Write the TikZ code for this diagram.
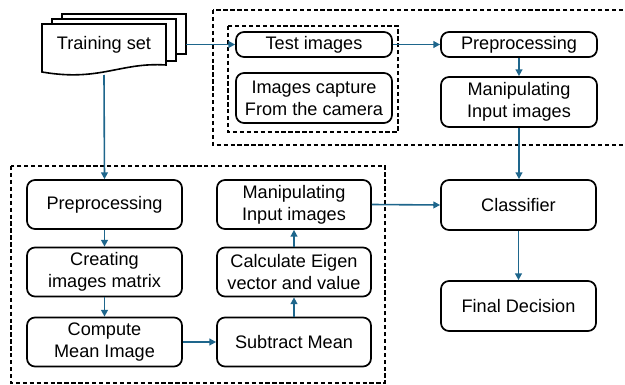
\documentclass[tikz,border=0pt]{standalone}
\usepackage{fontspec}
\setmainfont{Liberation Sans}
\usetikzlibrary{arrows.meta}
\definecolor{arr}{RGB}{30,102,140}
\tikzset{
  txt/.style={font=\fontsize{13.6}{16.5}\selectfont},
  bx/.style={txt, draw=black, line width=1.3pt, rounded corners=6pt, fill=white, inner sep=0pt, align=center},
  cn/.style={draw=arr, line width=1.2pt, -{Triangle[length=5pt,width=5pt]}},
  grp/.style={draw=black, line width=1.1pt, dash pattern=on 3.2pt off 2pt},
  doc/.style={draw=black, line width=1.2pt, fill=white},
  wA/.style={minimum width=116.25pt, minimum height=36.75pt},
  wB/.style={minimum width=115.5pt, minimum height=36.75pt},
  wT/.style={minimum width=117pt, minimum height=18.75pt},
  wM/.style={minimum width=117pt, minimum height=37.5pt},
}
\begin{document}
\begin{tikzpicture}[x=0.75pt, y=-0.75pt]
\useasboundingbox (0,0) rectangle (625,385);
\clip (0,0) rectangle (625,385);
% group boxes
\draw[grp] (213,10) rectangle (640,145);
\draw[grp] (228,26) rectangle (398,132);
\draw[grp] (11,166) rectangle (385,383);
% training set document stack
\draw[doc] (62,14) rectangle (186,54);
\draw[doc] (52,19) rectangle (176,61);
\draw[doc] (42,24) -- (166,24) -- (166,65) .. controls (120,62) and (100,82) .. (42,72) -- cycle;
\node[txt] (ts) at (104,45) {Training set};
\coordinate (tsr) at (186,44.5);
\coordinate (tsb) at (104,75);
% top nodes
\node[bx, wT] (test) at (314,44.5) {Test images};
\node[bx, wM] (cap) at (314,98) {Images capture\\From the camera};
\node[bx, wT] (pre2) at (519,44.5) {Preprocessing};
\node[bx, wM] (man2) at (519,102) {Manipulating\\Input images};
% right column
\node[bx, wM, minimum width=116.25pt] (cls) at (518.5,205) {Classifier};
\node[bx, wM, minimum width=116.25pt] (fin) at (518.5,306) {Final Decision};
% lower group
\node[bx, wA] (pre1) at (104.5,204.5) {Preprocessing};
\node[bx, wA] (cre) at (104.5,272) {Creating\\images matrix};
\node[bx, wA] (cmp) at (104.5,342) {Compute\\Mean Image};
\node[bx, wB] (man1) at (294,204.5) {Manipulating\\Input images};
\node[bx, wB] (cal) at (294,272) {Calculate Eigen\\vector and value};
\node[bx, wB] (sub) at (294,342) {Subtract Mean};
% connectors
\draw[cn] (tsr) -- (test.west);
\draw[cn] (tsb) -- (pre1.north);
\draw[cn] (test.east) -- (pre2.west);
\draw[cn] (pre2.south) -- (man2.north);
\draw[cn] (man2.south) -- (man2.south |- cls.north);
\draw[cn] (cls.south) -- (fin.north);
\draw[cn] (pre1.south) -- (cre.north);
\draw[cn] (cre.south) -- (cmp.north);
\draw[cn] (cmp.east) -- (sub.west);
\draw[cn] (sub.north) -- (cal.south);
\draw[cn] (cal.north) -- (man1.south);
\draw[cn] (man1.east) -- (cls.west);
\end{tikzpicture}
\end{document}
